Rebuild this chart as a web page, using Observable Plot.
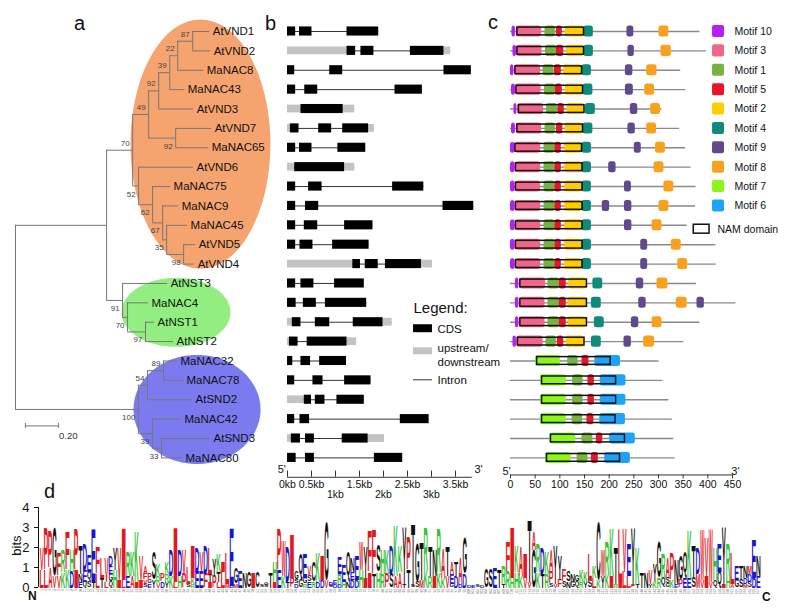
<!DOCTYPE html>
<html><head><meta charset="utf-8">
<script src="https://cdn.jsdelivr.net/npm/d3@7"></script>
<script src="https://cdn.jsdelivr.net/npm/@observablehq/plot@0.6"></script>
<style>
body{margin:0;background:#fff;}
#page{position:relative;width:785px;height:612px;overflow:hidden;font-family:"Liberation Sans",Arial,sans-serif;background:#fff;}
.lab{position:absolute;font-size:20px;line-height:1;color:#111;white-space:nowrap;}
.small{position:absolute;line-height:1;color:#111;white-space:nowrap;}
</style></head><body>
<div id="page">
  <span class="lab" style="left:74px;top:13px">a</span>
  <span class="lab" style="left:265px;top:13px">b</span>
  <span class="lab" style="left:488px;top:12px">c</span>
  <span class="lab" style="left:44px;top:481px">d</span>
  <span class="small" style="left:28px;top:590px;font-size:12px;font-weight:bold">N</span>
  <span class="small" style="left:762px;top:591px;font-size:12px;font-weight:bold">C</span>
  <span class="small" style="left:-4px;top:539px;width:40px;text-align:center;font-size:13px;transform:rotate(-90deg)">bits</span>
</div>
<script>
// ---------------- DATA ----------------
// a: phylogenetic tree (Newick pieces, branch lengths, bootstrap values)
const nwVND49 = "(((((AtVND1:0.103,AtVND2:0.109)87:0.091,MaNAC8:0.158)22:0.048,MaNAC43:0.091)39:0.067,AtVND3:0.212)92:0.061,(AtVND7:0.218,MaNAC65:0.2)92:0.164)49:0.097";
const nwVND52 = "(AtVND6:0.333,(MaNAC75:0.109,(MaNAC9:0.097,(MaNAC45:0.127,(AtVND5:0.073,AtVND4:0.067)98:0.103)35:0.024)67:0.061)62:0.085)52:0.036";
const nwNST = "(AtNST3:0.273,(MaNAC4:0.127,(AtNST1:0.055,AtNST2:0.170)97:0.109)70:0.030)91:0.097";
const nwSND = "(((MaNAC32:0.085,MaNAC78:0.121)89:0.097,AtSND2:0.273)54:0.055,(MaNAC42:0.176,(AtSND3:0.297,MaNAC80:0.127)33:0.055)39:0.085)100:0.745";
const newick = "(((" + nwVND49 + "," + nwVND52 + ")70:0.158," + nwNST + "):0.552," + nwSND + ");";
const clades = [
  {name: "VND", color: "#F6A46F", cx: 1.121, cy: 5.81, rx: 0.424, ry: 6.43},
  {name: "NST", color: "#92EE80", cx: 0.973, cy: 14.49, rx: 0.330, ry: 1.78},
  {name: "SND", color: "#7B7AEF", cx: 1.10, cy: 19.5, rx: 0.385, ry: 2.815}
];
const scaleBarLen = 0.2;

// b: gene structures (kb): C = CDS, U = upstream/downstream
const geneStructures = [
  "C0-0.17 C0.25-0.51 C1.24-1.90",
  "U0-1.24 C1.24-1.42 C1.53-1.80 C2.56-3.26 U3.26-3.40",
  "C0-0.15 C0.88-1.15 C3.26-3.83",
  "C0-0.17 C0.36-0.63 C2.24-2.81",
  "U0-0.28 C0.28-1.16 U1.16-1.40",
  "U0-0.06 C0.06-0.24 C0.65-0.92 C1.15-1.69 U1.69-1.81",
  "C0-0.17 C0.25-0.51 C1.05-1.63",
  "U0-0.15 C0.15-1.19 U1.19-1.40",
  "C0-0.17 C0.44-0.72 C2.19-2.84",
  "C0-0.17 C0.375-0.65 C3.24-3.88",
  "C0-0.17 C0.35-0.63 C1.19-1.78",
  "C0-0.17 C0.26-0.53 C0.94-1.70",
  "U0-1.36 C1.36-1.52 C1.62-1.89 C2.04-2.79 U2.79-3.02",
  "C0-0.17 C0.28-0.55 C0.98-1.60",
  "C0-0.18 C0.33-0.60 C0.79-1.65",
  "U0-0.10 C0.10-0.28 C0.58-0.88 C1.37-1.99 U1.99-2.18",
  "U0-0.04 C0.04-0.22 C0.41-1.24 U1.24-1.44",
  "C0-0.11 C0.28-0.48 C0.67-1.23",
  "C0-0.15 C0.53-0.74 C1.19-1.74",
  "U0-0.35 C0.35-0.50 C0.58-0.78 C1.03-1.60",
  "C0-0.15 C0.26-0.46 C2.35-2.95",
  "U0-0.08 C0.08-0.27 C0.375-0.56 C1.14-1.68 U1.68-2.02",
  "C0-0.18 C0.375-0.56 C1.81-2.40"
];
const kbTicks = [0, 0.5, 1, 1.5, 2, 2.5, 3, 3.5];
const kbLabelsRow1 = [0, 0.5, 1.5, 2.5, 3.5];
const kbLabelsRow2 = [1, 2, 3];
const geneAxisEnd = 3.85;

// c: protein lengths, motif positions (aa), NAM domains
const protLengths = [384, 397, 345, 355, 307, 343, 355, 366, 376, 375, 358, 416, 417, 377, 457, 384, 351, 301, 309, 321, 328, 331, 334];
const coreVND = "10:0-9 3:10-61 1:68-90 5:90-103 2:110-145 4:145-164";
const protMotifs = [
  "10:3-10 3:12-63 1:70-91 5:93-105 2:111-149 4:149-168 9:236-250 8:301-321",
  "10:5-12 3:13-64 1:71-93 5:93-108 2:113-149 4:149-168 9:238-251 8:305-326",
  "10:0-7 3:9-61 1:66-88 5:89-103 2:108-145 4:145-164 9:233-248 8:276-297",
  "10:2-10 3:11-62 1:69-91 5:91-105 2:111-147 4:147-167 9:233-249 8:272-292",
  "10:7-13 3:15-67 1:73-95 5:96-109 2:115-150 4:152-172 9:243-258 8:284-304",
  "10:2-10 3:12-63 1:70-91 5:93-106 2:111-147 4:147-167 9:238-253 8:276-296",
  "10:0-9 3:10-61 1:68-90 5:90-103 2:110-145 4:145-164 9:251-265 8:294-314",
  "10:0-9 3:10-61 1:68-90 5:90-103 2:110-145 4:145-164 9:199-214 8:291-311",
  coreVND + " 9:231-245 8:311-331",
  coreVND + " 9:186-201 9:231-246 8:301-321",
  coreVND + " 9:231-246 8:287-307",
  coreVND + " 9:264-278 8:326-346",
  coreVND + " 9:264-278 8:339-359",
  "10:10-17 3:19-71 1:76-99 5:99-113 2:118-155 4:167-187 9:255-270 8:297-319",
  "10:10-17 3:18-70 1:76-99 5:99-113 2:117-154 4:164-184 9:260-275 8:336-358 9:378-393",
  "10:10-17 3:18-70 1:76-99 5:99-113 2:117-154 4:170-190 9:245-260 8:287-307",
  "10:5-12 3:13-66 1:72-93 5:95-108 2:113-150 4:164-184 9:230-245 8:270-292",
  "7:51-101 1:116-137 5:145-159 6:171-223",
  "7:61-113 1:126-147 5:157-170 6:182-234",
  "7:61-113 1:126-147 5:157-170 6:182-234",
  "7:61-113 1:125-146 5:155-169 6:181-233",
  "7:80-132 1:145-167 5:174-187 6:201-253",
  "7:71-123 1:135-157 5:164-178 6:191-243"
];
const namDomains = ["14-149","14-149","10-145","12-147","17-150","14-147","10-145","11-146","11-146","11-146","11-146","11-146","11-146",
  "20-155","20-155","20-155","15-150","54-203","64-214","64-214","64-213","82-232","74-222"];
const motifOrder = [10, 3, 1, 5, 2, 4, 9, 8, 7, 6];
const motifColors = {10: "#B51EF4", 3: "#F0668A", 1: "#78B240", 5: "#E9132B", 2: "#FFCC00", 4: "#108A7A", 9: "#604A8C", 8: "#F9A11F", 7: "#8EF51A", 6: "#1FA3F6"};
const aaTicks = [0, 50, 100, 150, 200, 250, 300, 350, 400, 450];

// d: sequence logo columns (letter + bits, top letter first)
const logoColumns = [
  "V1.1 L0.9","P2.1 L0.9","P1.8 A1.0","G2.4 V0.6","F1.1 V0.6","R1.1 K0.8","F1.9 K0.9","H1.1 D0.8","P2.0 I0.9","T1.4 N0.4 E0.3",
  "D1.3 E0.6 Q0.3","E0.8 Q0.5 S0.3","E2.6 T0.3","F1.3 L0.7","L1.0 T0.5","V1.2 L0.3","D0.5 E0.4 G0.4 Q0.3","Y1.1 H0.9","V1.6 I0.4","I2.6 L0.4",
  "R1.2 E0.6","K1.2 A0.6","K2.5 I0.3","V1.2 I0.4","A0.4 F0.3 V0.2 S0.2","P0.3 G0.2 E0.2","S1.4 Y0.4","K0.6 R0.4 V0.2","P0.4 D0.3","K0.6 R0.4 Y0.3",
  "D1.3 K0.6","I2.7 L0.3","D1.3 H0.6","V1.2 P0.7","L0.8 S0.2","I1.6 K0.3 R0.2","D1.2 E0.8","V1.0 E0.8","D1.4 F0.7","L1.3 T0.4 I0.3",
  "Y0.8 P0.6","K0.9 T0.5 L0.3","I0.5 L0.8","L1.5 M0.2","E2.9 D0.1","G0.8 M0.2","E0.8","N0.8","G0.8","I0.8",
  "C0.8","S0.15","G0.1 S0.1","T0.8","H1.0 I0.3","P2.0 E0.9","W1.7 K0.6","D1.7 T0.3","I2.2 P0.5","G0.4 S0.2 D0.2",
  "Q1.3 G0.4","E1.2 G0.3 R0.2","V0.5 S0.3 E0.3","C1.0 R0.3","K1.5 D0.3","I1.2 D0.4","G2.9 V0.4","D0.2 S0.1","E0.2 D0.2","E0.8 R0.5 D0.2",
  "E0.8 H0.3","Q1.5 N0.3","N0.7 E0.4 D0.4","E1.2 D0.4","W1.4 H0.9","Y1.5 I0.5","F2.0 I0.8","F2.2 T0.7","S1.3 H0.8","H1.2 R0.7",
  "K1.2 P0.7","D1.4 S0.7","K2.5 A0.6","K1.3 A0.8","Y2.8 T0.2","P1.6 T0.9","T3.1 S0.1","G1.9 S0.3","T1.9 M0.4","R2.1 K0.9",
  "T1.5 R0.6","N1.3 I0.6","R2.2 K0.8","A1.5 K0.5","T1.5 V0.6","A0.6 E0.5 G0.2","T0.7 D0.6","A1.3 D0.2","G1.8 D0.7","D0.15",
  "E0.1","S0.1","D0.15","G0.9","S0.9","E1.0","T0.9","R0.9 T0.2","F1.5 R0.8","I2.5 H0.5",
  "K1.3 H0.8","A1.5 K0.6","I1.2 V0.5","T3.1 V0.3","A0.9 G1.9","R1.4 K0.8","D1.3 T0.7","K1.1 R0.7","A1.1 P0.6 S0.2","Y1.9 V0.2",
  "Y1.2 F0.4","F0.6 S0.3","S0.5 N0.3","N0.4 G0.3","G0.3 Q0.3","K0.6 R0.3","K0.5 Y0.3","L1.3 S0.4","K0.6 L0.5","C2.9 K0.4",
  "W1.3 Y0.6","R1.6 K0.7","K2.4 I0.6","T1.8 R0.2","L2.6 I0.3","V2.2 L0.8","E1.6 L0.6","Y2.9 F0.1","K1.8 T0.2","T0.8",
  "N0.8","V0.7 Y0.2","Y0.9 K0.3","G1.8 R0.5","R1.2 Q0.5","A1.0 S0.3 G0.2","P1.3 K0.4","N1.2 E0.2","G1.2 P0.4","Q1.3 E0.5",
  "K2.4 E0.5","T1.6 S0.5","D1.3 M0.7","W2.5 V0.4","V1.9 I0.6","W2.6 V0.3","H1.6 Q0.4","E1.4 Q0.8","Y2.8 I0.2","R1.6 H0.6",
  "L1.5 A0.2","E0.7 G0.4","T0.7 S0.4","N0.6 D0.3 M0.2","M0.4 D0.4 S0.3","E1.9 D0.5","N1.0 E0.6"
];
const bitTicks = [0, 1, 2, 3, 4];
const aaColor = {};
"AVLIPWFM".split("").forEach(a => aaColor[a] = "#E3171D");
"DE".split("").forEach(a => aaColor[a] = "#1414D2");
"KRH".split("").forEach(a => aaColor[a] = "#33C233");
"GSTYCQN".split("").forEach(a => aaColor[a] = "#111111");

// ---------------- LAYOUT ----------------
const W = 785, H = 612;
const FONT = "'Liberation Sans', Arial, sans-serif";
const baseStyle = {position: "absolute", left: "0px", top: "0px", background: "transparent", fontFamily: FONT, fontSize: "11px", color: "#111", overflow: "visible"};
const rowY = {domain: [0, 22], range: [31, 457.4], axis: null};
const page = document.getElementById("page");

// ---- parse tree ----
function parseNewick(s) {
  let i = 0;
  function node() {
    const n = {children: []};
    if (s[i] === "(") {
      i++;
      n.children.push(node());
      while (s[i] === ",") { i++; n.children.push(node()); }
      i++;
    }
    let name = "";
    while (i < s.length && !",():;".includes(s[i])) name += s[i++];
    n.name = name;
    n.length = 0;
    if (s[i] === ":") { i++; let len = ""; while (i < s.length && !",();".includes(s[i])) len += s[i++]; n.length = +len; }
    return n;
  }
  return node();
}
const tree = parseNewick(newick);
let leafCounter = 0;
const hSegs = [], vSegs = [], leaves = [], boots = [];
function layout(n, x0, parent, isFirst) {
  n.x = x0 + n.length;
  if (!n.children.length) { n.y = leafCounter++; leaves.push(n); }
  else {
    n.children.forEach((c, i) => layout(c, n.x, n, i === 0));
    const a = n.children[0].y, b = n.children[n.children.length - 1].y;
    n.y = (a + b) / 2;
    vSegs.push({x: n.x, y1: a, y2: b});
    if (n.name) boots.push({x: n.x, y: n.y, label: n.name, above: isFirst});
  }
  if (parent) hSegs.push({x1: parent.x, x2: n.x, y: n.y});
}
layout(tree, 0, null, true);
const ellipse = c => d3.range(0, 120).map(k => {
  const t = k / 120 * 2 * Math.PI;
  return {x: c.cx + c.rx * Math.cos(t), y: c.cy + c.ry * Math.sin(t)};
});

const figA = Plot.plot({
  width: W, height: H, margin: 0, style: baseStyle,
  x: {domain: [0, 1], range: [15, 180], axis: null},
  y: rowY,
  marks: [
    ...clades.map(c => Plot.line(ellipse(c), {x: "x", y: "y", fill: c.color, stroke: "none", curve: "linear-closed"})),
    Plot.ruleY(hSegs, {x1: "x1", x2: "x2", y: "y", stroke: "#777", strokeWidth: 1}),
    Plot.ruleX(vSegs, {x: "x", y1: "y1", y2: "y2", stroke: "#777", strokeWidth: 1}),
    Plot.text(leaves, {x: "x", y: "y", text: "name", dx: 3, textAnchor: "start", fontSize: 11.5, fill: "#111"}),
    Plot.text(boots.filter(d => d.above), {x: "x", y: "y", text: "label", dx: -3, dy: -7, textAnchor: "end", fontSize: 8, fill: "#444"}),
    Plot.text(boots.filter(d => !d.above), {x: "x", y: "y", text: "label", dx: -3, dy: 8, textAnchor: "end", fontSize: 8, fill: "#444"}),
    Plot.ruleY([20.35], {x1: 0.06, x2: 0.06 + scaleBarLen, stroke: "#777", strokeWidth: 1}),
    Plot.ruleX([0.06, 0.06 + scaleBarLen], {y1: 20.22, y2: 20.48, stroke: "#777", strokeWidth: 1}),
    Plot.text([scaleBarLen.toFixed(2)], {x: 0.32, y: 20.88, text: d => d, fontSize: 9.5, fill: "#333"})
  ]
});
page.appendChild(figA);

// ---- gene structures ----
const geneFeat = [], geneSpan = [];
geneStructures.forEach((s, row) => {
  const f = s.split(" ").map(p => { const [a, b] = p.slice(1).split("-").map(Number); return {row, type: p[0], x1: a, x2: b}; });
  geneFeat.push(...f);
  geneSpan.push({row, x1: d3.min(f, d => d.x1), x2: d3.max(f, d => d.x2)});
});
const figB = Plot.plot({
  width: W, height: H, margin: 0, style: baseStyle,
  x: {domain: [0, 3.5], range: [287, 455], axis: null},
  y: rowY,
  marks: [
    Plot.ruleY(geneSpan, {x1: "x1", x2: "x2", y: "row", stroke: "#333", strokeWidth: 1}),
    Plot.rect(geneFeat.filter(d => d.type === "U"), {x1: "x1", x2: "x2", y1: d => d.row - 0.2, y2: d => d.row + 0.2, fill: "#C3C3C3"}),
    Plot.rect(geneFeat.filter(d => d.type === "C"), {x1: "x1", x2: "x2", y1: d => d.row - 0.235, y2: d => d.row + 0.235, fill: "#000"}),
    Plot.ruleY([23], {x1: 0, x2: geneAxisEnd, stroke: "#333", strokeWidth: 1}),
    Plot.ruleX(kbTicks, {x: d => d, y1: 23, y2: 22.68, stroke: "#333"}),
    Plot.text(kbLabelsRow1, {x: d => d, y: 23, dy: 7.5, text: d => d + "kb", fontSize: 10.5, fill: "#111"}),
    Plot.text(kbLabelsRow2, {x: d => d, y: 23, dy: 17.5, text: d => d + "kb", fontSize: 10.5, fill: "#111"}),
    Plot.text(["5'"], {x: -0.12, y: 22.58, text: d => d, fontSize: 11, fill: "#111"}),
    Plot.text(["3'"], {x: 3.98, y: 22.58, text: d => d, fontSize: 11, fill: "#111"}),
    // legend
    Plot.text(["Legend:"], {x: 2.625, y: 14.3, text: d => d, textAnchor: "start", fontSize: 15, fill: "#111"}),
    Plot.rect([0], {x1: 2.625, x2: 3.02, y1: 15.13, y2: 15.54, fill: "#000"}),
    Plot.rect([0], {x1: 2.625, x2: 3.02, y1: 16.32, y2: 16.68, fill: "#C3C3C3"}),
    Plot.ruleY([17.97], {x1: 2.625, x2: 3.02, stroke: "#333"}),
    Plot.text([{t: "CDS", y: 15.36}, {t: "upstream/", y: 16.37}, {t: "downstream", y: 17.05}, {t: "Intron", y: 18.0}],
      {x: 3.125, y: "y", text: "t", textAnchor: "start", fontSize: 11.5, fill: "#111"})
  ]
});
page.appendChild(figB);

// ---- motifs ----
const motifs = [], nams = [], prots = [];
protMotifs.forEach((s, row) => {
  prots.push({row, len: protLengths[row]});
  s.split(" ").forEach(p => { const [m, r] = p.split(":"); const [a, b] = r.split("-").map(Number); motifs.push({row, motif: +m, x1: a, x2: b}); });
  const [a, b] = namDomains[row].split("-").map(Number);
  nams.push({row, x1: a, x2: b});
});
const figC = Plot.plot({
  width: W, height: H, margin: 0, style: baseStyle,
  x: {domain: [0, 450], range: [510, 732], axis: null},
  y: rowY,
  color: {type: "identity"},
  marks: [
    Plot.ruleY(prots, {x1: 0, x2: "len", y: "row", stroke: "#8a8a8a", strokeWidth: 1.4}),
    Plot.rect(motifs, {x1: "x1", x2: "x2", y1: d => d.row - 0.285, y2: d => d.row + 0.285, fill: d => motifColors[d.motif], rx: 2.5}),
    Plot.rect(nams, {x1: "x1", x2: "x2", y1: d => d.row - 0.2, y2: d => d.row + 0.2, fill: "none", stroke: "#111", strokeWidth: 1.5}),
    Plot.ruleY([22.88], {x1: 0, x2: 450, stroke: "#333"}),
    Plot.ruleX(aaTicks, {x: d => d, y1: 22.88, y2: 23.08, stroke: "#333"}),
    Plot.text(aaTicks, {x: d => d, y: 22.88, dy: 9.5, text: d => d, fontSize: 10.5, fill: "#111"}),
    Plot.text(["5'"], {x: -8, y: 22.68, text: d => d, fontSize: 11, fill: "#111"}),
    Plot.text(["3'"], {x: 456, y: 22.68, text: d => d, fontSize: 11, fill: "#111"}),
    // legend
    Plot.rect(motifOrder, {x1: 409.5, x2: 433.8, y1: (d, i) => i - 0.31, y2: (d, i) => i + 0.31, fill: d => motifColors[d], rx: 2}),
    Plot.text(motifOrder, {x: 454, y: (d, i) => i, text: d => "Motif " + d, textAnchor: "start", fontSize: 10.5, fill: "#111"}),
    Plot.rect([0], {x1: 371.5, x2: 403.4, y1: 10.2 - 0.23, y2: 10.2 + 0.23, fill: "none", stroke: "#111", strokeWidth: 1.5}),
    Plot.text(["NAM domain"], {x: 419.6, y: 10.2, text: d => d, textAnchor: "start", fontSize: 10.5, fill: "#111"})
  ]
});
page.appendChild(figC);

// ---- sequence logo ----
const letters = [];
logoColumns.forEach((s, pos) => {
  const parts = s.split(" ").map(p => ({aa: p[0], h: +p.slice(1)}));
  let y = 0;
  parts.slice().reverse().forEach(p => { letters.push({pos, aa: p.aa, y1: y, y2: y + p.h}); y += p.h; });
});
const N = logoColumns.length;
const axisPos = -0.23; // y axis just left of first column
const figD = Plot.plot({
  width: W, height: H, marginLeft: 38, marginRight: 0, marginTop: 0, marginBottom: 0,
  style: {...baseStyle, fontSize: "13px"},
  x: {domain: [0, N], range: [39, 760], axis: null},
  y: {domain: [0, 4], range: [587, 507], ticks: bitTicks, tickSize: 4, label: null, tickFormat: d => String(d)},
  color: {type: "identity"},
  marks: [
    Plot.text(letters, {x: "pos", y: "y1", text: "aa", fill: d => aaColor[d.aa], fontSize: 100, fontWeight: "bold", fontFamily: FONT, textAnchor: "start"}),
    Plot.text(d3.range(N), {x: d => d + 0.5, y: 0, dy: 1.5, text: d => String(d + 1), rotate: -90, textAnchor: "end", fontSize: 3.2, fill: "#777"}),
    Plot.ruleX([axisPos], {y1: 0, y2: 4, stroke: "#111", strokeWidth: 1})
  ]
});
page.appendChild(figD);

// fit each letter glyph into its column/height box, using the plot's scales
(function fitLetters() {
  const sx = figD.scale("x"), sy = figD.scale("y");
  const ctx = document.createElement("canvas").getContext("2d");
  ctx.font = "bold 100px " + FONT;
  const group = figD.querySelector('g[aria-label="text"]');
  const nodes = group.querySelectorAll("text");
  nodes.forEach((t, k) => {
    const d = letters[k];
    const m = ctx.measureText(d.aa);
    const gl = m.actualBoundingBoxLeft, gr = m.actualBoundingBoxRight;
    const ga = m.actualBoundingBoxAscent, gd = m.actualBoundingBoxDescent;
    const X0 = sx.apply(d.pos) + 0.15, X1 = sx.apply(d.pos + 1) - 0.15;
    const Yb = sy.apply(d.y1), Yt = sy.apply(d.y2);
    const kx = (X1 - X0) / (gl + gr), ky = (Yb - Yt) / (ga + gd);
    ["x", "y", "dy", "dx"].forEach(a => t.removeAttribute(a));
    t.setAttribute("transform", `translate(${X0},${Yt}) scale(${kx},${ky}) translate(${gl},${ga})`);
  });
})();
</script>
</body></html>
